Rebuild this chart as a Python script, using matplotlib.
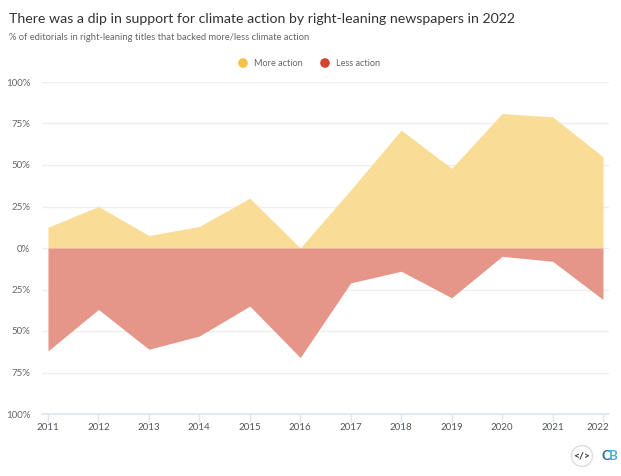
import matplotlib
matplotlib.use("Agg")
import matplotlib.pyplot as plt
from matplotlib.patches import Circle
from matplotlib.transforms import ScaledTranslation

# ----------- DATA -----------
years = [2011, 2012, 2013, 2014, 2015, 2016, 2017, 2018, 2019, 2020, 2021, 2022]
more_action = [12.5, 25, 7.5, 13, 30, 0, 35, 71, 48, 81, 79, 55]
less_action = [62, 37, 61, 53, 35, 66, 21, 14, 30, 5, 8, 31]
y_ticks = [100, 75, 50, 25, 0, -25, -50, -75, -100]
y_labels = ["100%", "75%", "50%", "25%", "0%", "25%", "50%", "75%", "100%"]

W, H = 621, 476
plt.rcParams["font.family"] = ["Lato", "DejaVu Sans"]

fig = plt.figure(figsize=(W / 100, H / 100), dpi=100)

# axes box in pixels: left 42, right 609, top 82, bottom 414
ax = fig.add_axes([42 / W, 1 - 414 / H, (609 - 42) / W, (414 - 82) / H])
px_per_year = (603 - 48) / 11
ax.set_xlim(2011 - 6 / px_per_year, 2022 + 6 / px_per_year)
ax.set_ylim(-100, 100)

ax.fill_between(years, more_action, 0, color="#f9dc95", lw=0, zorder=2)
ax.fill_between(years, [-v for v in less_action], 0, color="#e59689", lw=0, zorder=2)

ax.set_yticks(y_ticks)
ax.set_yticklabels(y_labels)
ax.set_xticks(years)
ax.grid(axis="y", color="#eeeeee", lw=1, zorder=1)
ax.set_axisbelow(True)
ax.tick_params(axis="y", length=0, labelsize=7, labelcolor="#666666", pad=8.6)
ax.tick_params(axis="x", length=5.8, width=1, color="#dde4f2", labelsize=7, labelcolor="#555555", pad=0.5)
for side in ["top", "left", "right"]:
    ax.spines[side].set_visible(False)
ax.spines["bottom"].set_color("#dde4f2")
ax.spines["bottom"].set_linewidth(1.2)

# last year label sits a bit left of its tick
last = ax.get_xticklabels()[-1]
last.set_transform(last.get_transform() + ScaledTranslation(-5 / 100, 0, fig.dpi_scale_trans))

# ----------- TITLES -----------
fig.text(9 / W, 1 - 19 / H, "There was a dip in support for climate action by right-leaning newspapers in 2022",
         fontsize=10.15, color="#333333", va="center")
fig.text(9 / W, 1 - 37 / H, "% of editorials in right-leaning titles that backed more/less climate action",
         fontsize=6.75, color="#666666", va="center")

# ----------- LEGEND + LOGO (figure pixel overlay) -----------
overlay = fig.add_axes([0, 0, 1, 1], facecolor="none")
overlay.set_xlim(0, W)
overlay.set_ylim(H, 0)
overlay.axis("off")
overlay.add_patch(Circle((243, 63), 4.8, color="#f5c244", lw=0))
overlay.text(254, 63, "More action", fontsize=6.6, color="#666666", va="center")
overlay.add_patch(Circle((325, 63), 4.8, color="#d8402f", lw=0))
overlay.text(335.5, 63, "Less action", fontsize=6.6, color="#666666", va="center")

overlay.add_patch(Circle((582, 456), 10.5, fc="white", ec="#e3dada", lw=1))
overlay.text(582, 456, "</>", fontsize=7.5, fontweight="bold", color="#333333", ha="center", va="center")
overlay.text(601, 456, "C", fontsize=9.5, fontweight="bold", color="#2f6f9f", ha="left", va="center")
overlay.text(609, 456, "B", fontsize=9.5, fontweight="bold", color="#3fb0e0", ha="left", va="center")

fig.savefig("out.png", dpi=100)
